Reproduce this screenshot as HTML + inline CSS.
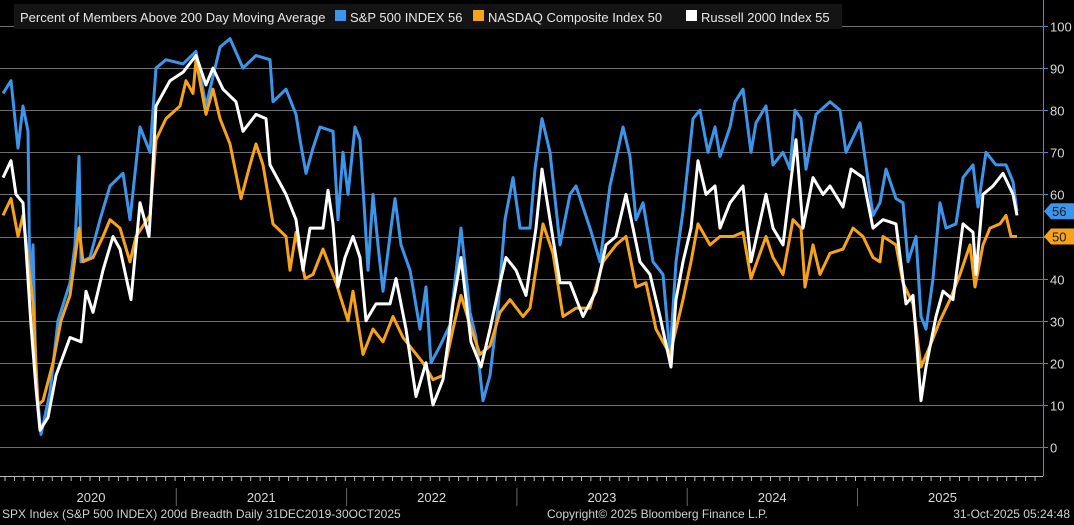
<!DOCTYPE html>
<html><head><meta charset="utf-8">
<style>
html,body{margin:0;padding:0;background:#000;}
body{width:1074px;height:525px;overflow:hidden;position:relative;font-family:"Liberation Sans",sans-serif;}
svg{position:absolute;left:0;top:0;}
</style></head>
<body>
<svg id="chart" width="1074" height="525" xmlns="http://www.w3.org/2000/svg">
  <rect x="0" y="0" width="1074" height="525" fill="#000"/>
  <g id="grid"></g>
  <g id="series"></g>
  <line x1="1043.5" y1="0" x2="1043.5" y2="476" stroke="#3d8fe0" stroke-width="1"/>
  <g id="yaxis"></g>
  <g id="tags"></g>
  <rect x="14" y="4" width="828" height="25" fill="#141414"/>
  <g font-size="13" fill="#e6e6e6">
    <text x="20" y="22">Percent of Members Above 200 Day Moving Average</text>
    <rect x="335" y="10" width="11" height="11" fill="#3d95ea"/>
    <text x="350" y="22">S&amp;P 500 INDEX 56</text>
    <rect x="473" y="10" width="11" height="11" fill="#f7a21b"/>
    <text x="488" y="22">NASDAQ Composite Index 50</text>
    <rect x="686" y="10" width="11" height="11" fill="#ffffff"/>
    <text x="701" y="22">Russell 2000 Index 55</text>
  </g>
  <g id="xaxis"></g>
  <g font-size="12" fill="#d0d0d0">
    <text x="2" y="518">SPX Index (S&amp;P 500 INDEX) 200d Breadth Daily 31DEC2019-30OCT2025</text>
    <text x="547" y="518">Copyright© 2025 Bloomberg Finance L.P.</text>
    <text x="1070" y="518" text-anchor="end">31-Oct-2025 05:24:48</text>
  </g>
</svg>
<script>
// session index (0..1014 over Dec 2019 - Oct 2025) and percent values
const spxT = [0,8,15,20,25,27,30,33,38,47,55,67,72,76,78,87,97,107,120,127,137,147,153,163,180,193,203,217,227,240,253,267,270,283,293,297,303,310,317,330,335,340,345,352,357,362,365,370,375,380,388,392,398,407,417,423,428,437,447,458,467,473,480,487,495,502,510,517,527,532,539,547,557,567,573,587,597,607,620,627,633,640,650,660,667,673,680,690,697,705,712,717,727,732,740,748,753,763,770,780,787,792,798,803,813,827,837,843,857,863,870,877,883,893,900,905,913,918,923,930,937,943,953,960,970,975,983,993,1003,1010,1014];
const spxV = [84,87,71,81,75,36,48,16,3,13,30,39,48,69,44,45,54,62,65,54,76,70,90,92,91,94,81,95,97,90,93,92,82,85,79,73,65,71,76,75,54,70,60,76,73,54,42,60,48,37,52,59,48,42,28,38,20,24,29,52,32,26,11,17,33,54,64,52,52,66,78,70,48,60,62,52,44,62,76,69,54,58,44,41,22,44,56,78,80,70,76,69,76,82,85,70,77,81,67,70,66,80,78,66,79,82,80,70,77,67,55,58,66,59,58,44,50,31,28,40,58,52,53,64,67,57,70,67,67,63,56];
const ndxT = [0,8,15,20,30,35,40,50,58,67,76,80,90,100,107,117,127,133,147,153,163,177,183,190,193,203,210,217,227,238,247,253,260,270,283,287,293,302,310,320,333,345,350,360,370,380,390,400,420,430,440,450,458,467,477,487,497,507,520,527,540,550,560,573,587,600,613,623,633,643,653,667,673,680,688,695,707,717,730,740,748,763,770,780,790,798,802,810,817,827,840,850,860,870,877,880,893,900,910,918,927,937,947,957,967,972,980,987,997,1003,1008,1014];
const ndxV = [55,59,50,55,34,10,11,20,30,36,52,44,45,50,54,52,44,50,55,73,78,81,87,84,92,79,85,78,72,59,67,72,67,53,50,42,51,40,41,47,39,30,37,22,28,25,31,26,20,16,17,28,36,29,22,24,32,35,31,33,53,46,31,33,33,44,48,50,38,39,28,22,28,35,44,53,48,50,50,51,40,50,45,41,54,52,38,48,41,46,47,52,50,45,44,50,48,39,34,19,24,30,35,41,48,38,48,52,53,55,50,50];
const rutT = [0,8,13,20,28,33,37,45,53,67,78,83,90,100,110,117,128,137,146,148,153,167,180,193,203,210,220,233,240,253,263,267,283,293,300,307,320,325,330,335,342,350,357,363,373,387,393,403,413,423,430,440,450,458,468,478,487,497,503,513,523,533,539,547,557,567,580,593,603,613,623,630,637,647,657,668,673,680,688,695,703,712,717,727,740,748,763,770,780,793,800,810,820,827,840,848,860,870,880,893,903,910,918,923,933,940,950,960,970,973,980,990,1000,1010,1014];
const rutV = [64,68,60,58,29,14,4,7,17,26,25,37,32,42,50,47,35,58,50,58,81,87,89,93,86,90,85,82,75,79,78,67,60,54,42,52,52,61,53,38,45,50,45,30,34,34,40,28,12,20,10,16,34,45,25,19,28,39,45,42,36,52,66,54,39,39,31,37,48,50,60,52,44,41,31,19,35,44,52,68,60,62,52,58,62,44,60,52,48,73,52,64,60,62,57,66,64,52,54,53,34,36,11,19,31,37,35,53,51,41,60,62,65,60,55];
const yTicks = [0,10,20,30,40,50,60,70,80,90,100];
const years = ["2020","2021","2022","2023","2024","2025"];
const lastVals = [56,50];

const NS="http://www.w3.org/2000/svg";
const X0=3, X1=1017, T0=0, T1=1014;
const Y0=447, Y100=26;
function sx(t){return X0+(t-T0)/(T1-T0)*(X1-X0);}
function sy(v){return Y0-(v/100)*(Y0-Y100);}
function mk(tag,attrs,parent){const e=document.createElementNS(NS,tag);for(const k in attrs)e.setAttribute(k,attrs[k]);parent.appendChild(e);return e;}

const grid=document.getElementById('grid'), yax=document.getElementById('yaxis');
yTicks.forEach(v=>{
  const y=Math.round(sy(v))+0.5;
  const gl=mk('line',{x1:0,x2:1043,y1:y,y2:y,stroke:'#6e6e6e','stroke-width':1},grid);
  
  
  const tk=mk('line',{x1:1043,x2:1048,y1:y,y2:y,stroke:'#3d8fe0','stroke-width':1},yax);
  
  
  const tx=mk('text',{x:1050,y:y+5,fill:'#d8d8d8','font-size':13},yax);
  tx.textContent=v;
  
  
});

const ser=document.getElementById('series');
function line(T,V,color,name){
  let d='';T.forEach((t,i)=>{d+=(i?'L':'M')+sx(t).toFixed(1)+','+sy(V[i]).toFixed(1);});
  const p=mk('path',{d:d,fill:'none',stroke:color,'stroke-width':3,'stroke-linejoin':'round'},ser);
  
  
}
line(spxT,spxV,'#3d95ea','spx-line');
line(ndxT,ndxV,'#f7a21b','nasdaq-line');
line(rutT,rutV,'#ffffff','russell-line');

const tags=document.getElementById('tags');
function tag(v,color,textColor,name){
  const y=sy(v);
  const p=mk('path',{d:`M1044,${y} L1051,${y-8} L1074,${y-8} L1074,${y+8} L1051,${y+8} Z`,fill:color},tags);
  
  
  const t=mk('text',{x:1052,y:y+5,fill:textColor,'font-size':13},tags);
  t.textContent=v;
  
  
}
tag(lastVals[0],'#3d95ea','#1a1a1a','spx-last-tag');
tag(lastVals[1],'#f7a21b','#1a1a1a','nasdaq-last-tag');

const xax=document.getElementById('xaxis');
const ax=mk('line',{x1:0,x2:1043,y1:476.5,y2:476.5,stroke:'#bbbbbb','stroke-width':1},xax);


for(let x=5;x<1040;x+=9.45){
  const t=mk('line',{x1:x,x2:x,y1:476,y2:481,stroke:'#bbbbbb','stroke-width':1},xax);
  
  
}
years.forEach((yr,i)=>{
  const left=6+i*170.3;
  const t=mk('text',{x:left+85,y:502,fill:'#d8d8d8','font-size':13,'text-anchor':'middle'},xax);
  t.textContent=yr;
  
  
  if(i>0){
    const s=mk('line',{x1:left,x2:left,y1:488,y2:506,stroke:'#666','stroke-width':1},xax);
    
    
  }
});
</script>
</body></html>
